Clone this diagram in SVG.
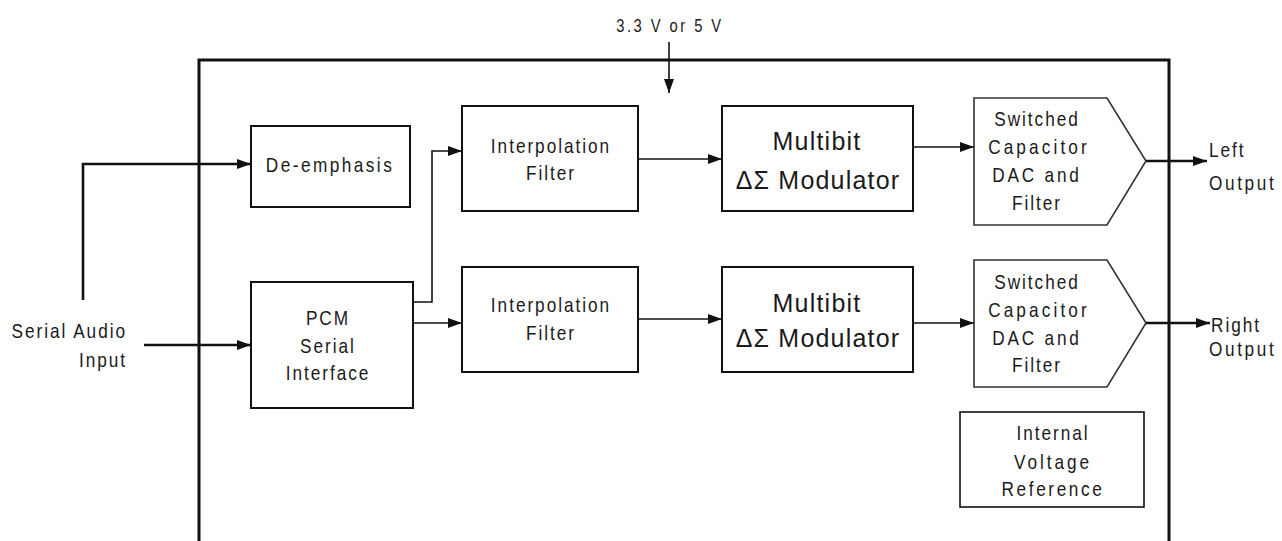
<svg xmlns="http://www.w3.org/2000/svg" width="1282" height="541" viewBox="0 0 1282 541">
<style>
text{font-family:"Liberation Sans",Arial,sans-serif;fill:#1a1a1a;font-size:21px;letter-spacing:2.4px;transform-box:fill-box;transform-origin:center;transform:scaleX(0.82)}
.c{text-anchor:middle}
.l{transform-origin:left center}
.r{text-anchor:end;transform-origin:right center}
.big{font-size:25px;letter-spacing:1.2px;transform:none}
.box{fill:#fff;stroke:#111;stroke-width:2}
.ln{fill:none;stroke:#111;stroke-width:1.6}
.thick{fill:none;stroke:#111;stroke-width:2.6}
</style>
<defs>
<marker id="ah" markerUnits="userSpaceOnUse" markerWidth="16" markerHeight="10" refX="14" refY="5" orient="auto">
<path d="M0,0 L14,5 L0,10 Z" fill="#111"/>
</marker>
</defs>
<rect width="1282" height="541" fill="#fff"/>
<g id="chip">
<path d="M199,546 V60 H1169 V546" fill="none" stroke="#111" stroke-width="3"/>
</g>
<g id="supply">
<text class="c" x="670" y="32" style="font-size:18px;letter-spacing:3px">3.3 V or 5 V</text>
</g>
<g id="serial-input-label">
<text class="r" x="127" y="338">Serial Audio</text>
<text class="r" x="127" y="367">Input</text>
</g>
<g id="deemphasis">
<rect class="box" x="251" y="126" width="159" height="81"/>
<text class="c" x="330" y="172" style="letter-spacing:3px">De-emphasis</text>
</g>
<g id="pcm">
<rect class="box" x="251" y="282" width="162" height="126"/>
<text class="c" x="328" y="325">PCM</text>
<text class="c" x="328" y="353">Serial</text>
<text class="c" x="328" y="380">Interface</text>
</g>
<g id="interp-top">
<rect class="box" x="462" y="106" width="176" height="105"/>
<text class="c" x="551" y="153">Interpolation</text>
<text class="c" x="551" y="180">Filter</text>
</g>
<g id="interp-bottom">
<rect class="box" x="462" y="267" width="176" height="105"/>
<text class="c" x="551" y="312">Interpolation</text>
<text class="c" x="551" y="340">Filter</text>
</g>
<g id="mod-top">
<rect class="box" x="722" y="106" width="191" height="105"/>
<text class="c big" x="817" y="150">Multibit</text>
<text class="c big" x="818" y="189">ΔΣ Modulator</text>
</g>
<g id="mod-bottom">
<rect class="box" x="722" y="267" width="191" height="105"/>
<text class="c big" x="817" y="312">Multibit</text>
<text class="c big" x="818" y="347">ΔΣ Modulator</text>
</g>
<g id="dac-top">
<polygon points="974,98 1107,98 1146,161 1107,225 974,225" fill="#fff" stroke="#333" stroke-width="1.6"/>
<text class="c" x="1037" y="126">Switched</text>
<text class="c" x="1039" y="154" style="letter-spacing:3.8px">Capacitor</text>
<text class="c" x="1037" y="182" style="letter-spacing:3.4px">DAC and</text>
<text class="c" x="1037" y="210">Filter</text>
</g>
<g id="dac-bottom">
<polygon points="974,260 1107,260 1146,323 1107,387 974,387" fill="#fff" stroke="#333" stroke-width="1.6"/>
<text class="c" x="1037" y="289">Switched</text>
<text class="c" x="1039" y="317" style="letter-spacing:3.8px">Capacitor</text>
<text class="c" x="1037" y="345" style="letter-spacing:3.4px">DAC and</text>
<text class="c" x="1037" y="372">Filter</text>
</g>
<g id="vref">
<rect x="960" y="412" width="184" height="95" fill="#fff" stroke="#111" stroke-width="1.6"/>
<text class="c" x="1053" y="440">Internal</text>
<text class="c" x="1053" y="469" style="letter-spacing:3.6px">Voltage</text>
<text class="c" x="1053" y="496" style="letter-spacing:3.2px">Reference</text>
</g>
<g id="outputs">
<text class="l" x="1209" y="157">Left</text>
<text class="l" x="1209" y="190" style="letter-spacing:3.2px">Output</text>
<text class="l" x="1211" y="332">Right</text>
<text class="l" x="1209" y="356" style="letter-spacing:3.2px">Output</text>
</g>
<g id="connectors">
<path class="ln" d="M669,42 V93" marker-end="url(#ah)"/>
<path class="thick" d="M83,300 V164 H251" marker-end="url(#ah)"/>
<path class="thick" d="M144,345 H251" marker-end="url(#ah)"/>
<path class="ln" d="M413,302 H432 V151 H462" marker-end="url(#ah)"/>
<path class="ln" d="M413,323 H462" marker-end="url(#ah)"/>
<path class="ln" d="M638,159 H722" marker-end="url(#ah)"/>
<path class="ln" d="M638,319 H722" marker-end="url(#ah)"/>
<path class="ln" d="M913,147 H974" marker-end="url(#ah)"/>
<path class="ln" d="M913,323 H974" marker-end="url(#ah)"/>
<path class="thick" d="M1146,161 H1207" marker-end="url(#ah)"/>
<path class="thick" d="M1146,323 H1210" marker-end="url(#ah)"/>
</g>
</svg>
